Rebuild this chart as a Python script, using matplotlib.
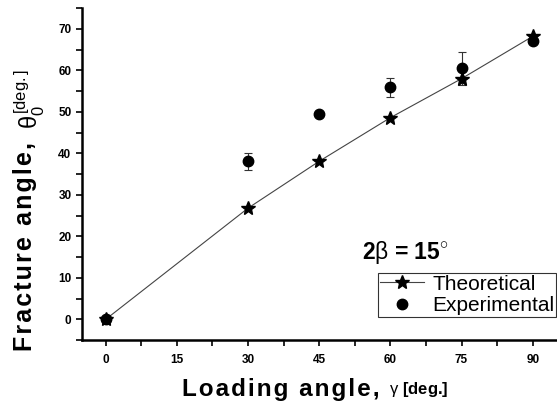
import numpy as np
import matplotlib
matplotlib.use('Agg')
import matplotlib.pyplot as plt
from matplotlib.ticker import MultipleLocator

plt.rcParams['font.family'] = ['Liberation Sans', 'DejaVu Sans']
plt.rcParams['mathtext.fontset'] = 'custom'
plt.rcParams['mathtext.rm'] = 'Liberation Sans'
plt.rcParams['mathtext.bf'] = 'Liberation Sans:bold'
plt.rcParams['mathtext.it'] = 'Liberation Sans'

# loading angle (deg)
gamma = [0, 30, 45, 60, 75, 90]
# theoretical fracture angle
theo = [0, 26.8, 38.1, 48.6, 58.0, 68.2]
# experimental fracture angle and error
expt = [0, 38.1, 49.4, 55.9, 60.5, 67.0]
expt_err = [0, 2.0, 0.5, 2.2, 4.0, 0.5]

fig = plt.figure(figsize=(5.57, 4.05), dpi=100)
ax = fig.add_axes([0.147, 0.160, 0.852, 0.82])

ax.errorbar(gamma, expt, yerr=expt_err, fmt='none', ecolor='#333333',
            elinewidth=0.8, capsize=3, capthick=0.8, zorder=2)
ax.plot(gamma, theo, color='#444444', lw=0.8, marker='*', ms=10,
        mfc='black', mec='black', label='Theoretical', zorder=3)
ax.plot(gamma, expt, ls='none', marker='o', ms=7.5, mfc='black',
        mec='black', label='Experimental', zorder=4)

ax.set_xlim(-5, 95)
ax.set_ylim(-5, 75)
ax.xaxis.set_major_locator(MultipleLocator(15))
ax.xaxis.set_minor_locator(MultipleLocator(7.5))
ax.yaxis.set_major_locator(MultipleLocator(10))
ax.yaxis.set_minor_locator(MultipleLocator(5))

for s in ['top', 'right']:
    ax.spines[s].set_visible(False)
for s in ['left', 'bottom']:
    ax.spines[s].set_linewidth(1.8)

ax.tick_params(which='both', direction='out', width=1.2, length=4, labelsize=8.5)
ax.tick_params(axis='x', pad=6)
for lab in ax.get_xticklabels() + ax.get_yticklabels():
    lab.set_fontweight('bold')

# slightly letter-spaced axis titles, like the original
hs = '\u200a'
xl = ax.set_xlabel(hs.join('Loading angle,'), fontsize=17.5, fontweight='bold')
ax.xaxis.set_label_coords(0.42, -0.113)
ax.annotate(r'  $\gamma$ [deg.]', xy=(1, 0.06), xycoords=xl, fontsize=12,
            fontweight='bold', va='bottom', ha='left')

yl = ax.set_ylabel(hs.join('Fracture angle,'), fontsize=18, fontweight='bold')
ax.yaxis.set_label_coords(-0.095, 0.283)
ax.annotate(r'  $\theta_0^{[deg.]}$', xy=(0.72, 1), xycoords=yl,
            fontsize=17, rotation=90, va='bottom', ha='center')

ax.text(0.59, 0.244, r'2$\beta$ = 15$^{\circ}$', transform=ax.transAxes,
        fontsize=16.5, fontweight='bold')

leg = ax.legend(loc='lower right', bbox_to_anchor=(1.0, 0.07), fontsize=15,
                frameon=True, fancybox=False, edgecolor='black',
                handlelength=2.1, handletextpad=0.4, borderpad=0.1,
                labelspacing=0.1, borderaxespad=0.0)
leg.get_frame().set_linewidth(0.8)

fig.savefig('out.png', dpi=100)
